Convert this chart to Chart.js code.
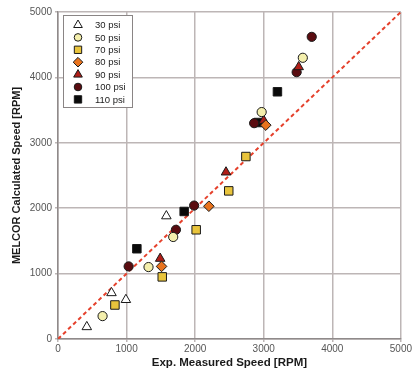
<!DOCTYPE html>
<html>
<head>
<meta charset="utf-8">
<script src="https://cdn.jsdelivr.net/npm/chart.js@4.4.0/dist/chart.umd.min.js"></script>
<style>
  html, body { margin: 0; padding: 0; background: #ffffff; }
  #wrap { width: 413px; height: 370px; }
</style>
</head>
<body>
<div id="wrap"><canvas id="c" width="413" height="370"></canvas></div>
<script>
// Measured vs. calculated turbine speed, grouped by supply pressure
const seriesLabels = ['30 psi', '50 psi', '70 psi', '80 psi', '90 psi', '100 psi', '110 psi'];

const measured30  = [420, 780, 990, 1580];
const calc30      = [185, 705, 600, 1880];

const measured50  = [650, 1320, 1680, 2970, 3570];
const calc50      = [350, 1100, 1560, 3470, 4300];

const measured70  = [830, 1520, 2015, 2490, 2740];
const calc70      = [520, 950, 1670, 2265, 2790];

const measured80  = [1510, 2200, 3030];
const calc80      = [1110, 2030, 3270];

const measured90  = [1490, 2450, 3000, 3510];
const calc90      = [1230, 2550, 3340, 4160];

const measured100 = [1030, 1720, 1985, 2860, 3480, 3700];
const calc100     = [1110, 1670, 2040, 3300, 4080, 4620];

const measured110 = [1150, 1840, 2920, 3200];
const calc110     = [1380, 1950, 3310, 3780];

const parityLine  = [0, 5000];
const tickValues  = [0, 1000, 2000, 3000, 4000, 5000];

const measuredSets = [measured30, measured50, measured70, measured80, measured90, measured100, measured110];
const calcSets     = [calc30, calc50, calc70, calc80, calc90, calc100, calc110];

// shape, fill and radius for each pressure group (chart marker / legend marker)
const markerStyles = [
  { shape: 'triangle', fill: '#ffffff', r: 5.5, lr: 5   },
  { shape: 'circle',   fill: '#f4efac', r: 4.6, lr: 3.8 },
  { shape: 'rect',     fill: '#e9c43c', r: 6,   lr: 5.2 },
  { shape: 'rectRot',  fill: '#e8731e', r: 5.3, lr: 4.8 },
  { shape: 'triangle', fill: '#b01e18', r: 5.5, lr: 5   },
  { shape: 'circle',   fill: '#5a0c10', r: 4.6, lr: 3.8 },
  { shape: 'rect',     fill: '#0a0a0a', r: 6,   lr: 5.2 }
];

const datasets = seriesLabels.map((label, i) => ({
  type: 'scatter',
  label: label,
  data: measuredSets[i].map((x, j) => ({ x: x, y: calcSets[i][j] })),
  pointStyle: markerStyles[i].shape,
  pointRadius: markerStyles[i].r,
  pointBackgroundColor: markerStyles[i].fill,
  pointBorderColor: '#1a1a1a',
  pointBorderWidth: 1,
  order: 1
}));

datasets.push({
  type: 'line',
  label: 'parity',
  data: parityLine.map(v => ({ x: v, y: v })),
  borderColor: '#e5412c',
  borderWidth: 2,
  borderDash: [4, 3],
  pointRadius: 0,
  fill: false,
  order: 10
});

// Boxed legend inside the upper-left corner of the plot
const boxedLegend = {
  id: 'boxedLegend',
  afterDatasetsDraw(chart) {
    const ctx = chart.ctx;
    const area = chart.chartArea;
    const x0 = area.left + 5, y0 = area.top + 3;
    const w = 69, h = 92;
    ctx.save();
    ctx.fillStyle = '#ffffff';
    ctx.fillRect(x0, y0, w, h);
    ctx.strokeStyle = '#8a8585';
    ctx.lineWidth = 1;
    ctx.strokeRect(x0 + 0.5, y0 + 0.5, w, h);
    ctx.font = '9.5px Arial, "Liberation Sans", sans-serif';
    ctx.textBaseline = 'middle';
    ctx.textAlign = 'left';
    seriesLabels.forEach((label, i) => {
      const cy = y0 + 10 + i * 12.4;
      const st = markerStyles[i];
      ctx.fillStyle = st.fill;
      ctx.strokeStyle = '#1a1a1a';
      ctx.lineWidth = 1;
      Chart.helpers.drawPoint(ctx, { pointStyle: st.shape, radius: st.lr, rotation: 0, borderWidth: 1 }, x0 + 15, cy);
      ctx.fillStyle = '#222222';
      ctx.fillText(label, x0 + 32, cy + 0.5);
    });
    ctx.restore();
  }
};

const tickFont = { family: 'Arial, "Liberation Sans", sans-serif', size: 10 };
const titleFont = { family: 'Arial, "Liberation Sans", sans-serif', size: 11.5, weight: 'bold' };
const plainNumber = v => String(v);

new Chart(document.getElementById('c'), {
  data: { datasets: datasets },
  options: {
    responsive: false,
    animation: false,
    layout: { padding: { top: 12, right: 10, left: 0, bottom: 0 } },
    plugins: {
      legend: { display: false },
      tooltip: { enabled: false }
    },
    scales: {
      x: {
        type: 'linear',
        min: 0, max: 5000,
        afterBuildTicks(scale) { scale.ticks = tickValues.map(v => ({ value: v })); },
        afterFit(scale) { scale.height = 31; },
        ticks: { color: '#555555', font: tickFont, padding: 1, callback: plainNumber },
        grid: { color: '#bdb6b6', lineWidth: 1.5, tickLength: 3 },
        border: { color: '#8f8a8a', width: 1.5 },
        title: { display: true, text: 'Exp. Measured Speed [RPM]', color: '#1a1a1a', font: titleFont, padding: { top: 0, bottom: 0 } }
      },
      y: {
        type: 'linear',
        min: 0, max: 5000,
        afterBuildTicks(scale) { scale.ticks = tickValues.map(v => ({ value: v })); },
        afterFit(scale) { scale.width = 58; },
        ticks: { color: '#555555', font: tickFont, padding: 3, callback: plainNumber },
        grid: { color: '#bdb6b6', lineWidth: 1.5, tickLength: 3 },
        border: { color: '#8f8a8a', width: 1.5 },
        title: { display: true, text: 'MELCOR Calculated Speed [RPM]', color: '#1a1a1a', font: { family: titleFont.family, size: 11, weight: 'bold' }, padding: { top: 10, bottom: 0 } }
      }
    }
  },
  plugins: [boxedLegend]
});
</script>
</body>
</html>
